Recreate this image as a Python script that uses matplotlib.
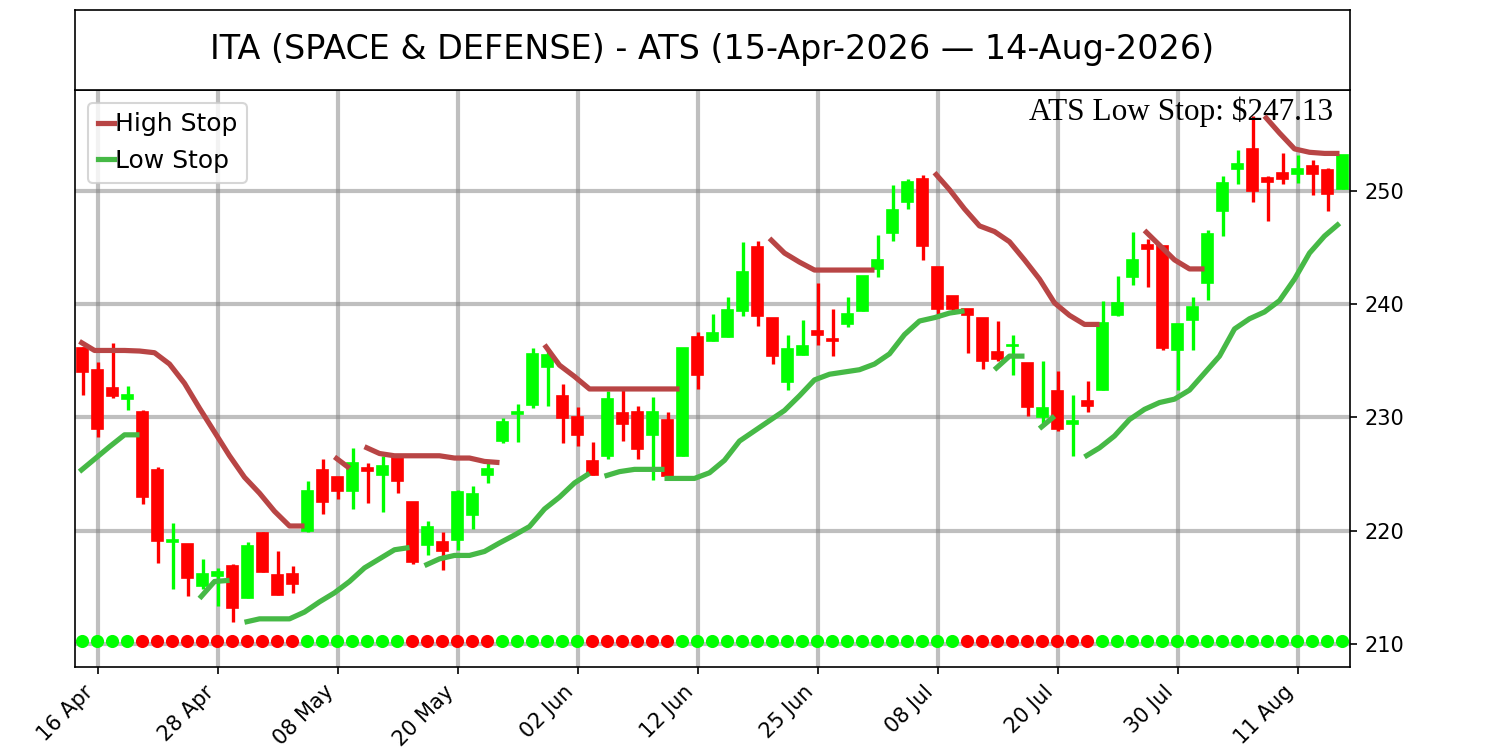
import numpy as np
import pandas as pd
import matplotlib
matplotlib.use('Agg')
import matplotlib.pyplot as plt
from matplotlib.lines import Line2D

# daily candles, 15-Apr-2026 .. 14-Aug-2026 (85 sessions)
opens = [236.1, 234.2, 232.6, 231.6, 230.5, 225.3, 219.0, 218.8, 215.1, 216.0,
         216.9, 214.0, 219.8, 216.1, 216.2, 220.0, 225.3, 224.7, 223.5, 225.5,
         224.9, 226.4, 222.5, 218.7, 219.0, 219.2, 221.4, 224.9, 227.9, 230.3,
         231.1, 234.4, 231.9, 230.0, 226.1, 226.6, 230.4, 230.5, 228.4, 229.8,
         226.6, 237.1, 236.7, 237.1, 239.4, 245.0, 238.8, 233.1, 235.5, 237.6,
         236.9, 238.25, 239.4, 243.1, 246.3, 249.0, 251.0, 243.3, 240.7, 239.55,
         238.8, 235.8, 236.3, 234.8, 230.0, 232.3, 229.4, 231.4, 232.4, 239.0,
         242.4, 245.2, 245.1, 235.9, 238.6, 241.9, 248.2, 251.9, 253.7, 251.1,
         251.6, 251.5, 252.2, 251.8, 250.2]
highs = [236.2, 234.9, 236.6, 232.8, 230.6, 225.6, 220.7, 218.8, 217.5, 216.7,
         217.0, 219.0, 219.9, 218.2, 216.9, 224.4, 226.3, 224.7, 227.3, 226.0,
         226.6, 226.8, 222.5, 220.8, 219.9, 223.6, 223.9, 226.2, 229.9, 231.2,
         236.1, 235.9, 232.9, 230.9, 227.8, 232.3, 232.7, 231.0, 231.8, 230.5,
         236.1, 237.5, 239.1, 240.6, 245.5, 245.6, 238.8, 237.3, 238.6, 241.9,
         239.6, 240.6, 242.5, 246.1, 250.5, 251.0, 251.4, 243.3, 240.7, 239.6,
         238.8, 238.5, 237.3, 234.8, 235.0, 234.1, 232.0, 233.2, 240.3, 242.5,
         246.4, 245.7, 245.1, 238.25, 240.6, 246.5, 251.3, 253.6, 256.6, 251.3,
         253.3, 253.2, 252.7, 252.0, 253.2]
lows = [232.0, 228.3, 231.7, 230.6, 222.3, 217.1, 214.8, 214.2, 214.8, 213.3,
        211.9, 214.0, 216.3, 214.3, 214.5, 219.9, 221.5, 222.8, 221.9, 222.4,
        221.6, 223.3, 217.0, 217.8, 216.5, 218.3, 220.1, 224.2, 227.7, 227.8,
        230.8, 231.0, 227.7, 227.5, 224.9, 226.3, 227.9, 226.3, 224.5, 224.8,
        226.6, 232.5, 236.7, 237.1, 238.9, 238.1, 234.7, 232.4, 235.5, 236.35,
        235.4, 238.0, 239.4, 242.4, 245.6, 248.4, 243.9, 238.8, 239.1, 235.7,
        234.3, 235.0, 233.7, 230.1, 229.5, 228.8, 226.6, 230.5, 232.4, 238.9,
        241.7, 241.5, 235.9, 232.4, 235.9, 240.4, 246.0, 250.6, 249.0, 247.3,
        250.6, 250.65, 249.6, 248.2, 250.2]
closes = [234.0, 229.0, 231.9, 231.95, 223.0, 219.1, 219.12, 215.8, 216.2, 216.3,
          213.2, 218.6, 216.3, 214.3, 215.3, 223.5, 222.5, 223.5, 226.0, 225.25,
          225.7, 224.4, 217.2, 220.3, 218.2, 223.4, 223.2, 225.4, 229.6, 230.5,
          235.6, 235.5, 229.9, 228.4, 224.9, 231.6, 229.4, 227.2, 230.5, 224.8,
          236.1, 233.7, 237.4, 239.5, 242.8, 238.9, 235.4, 236.0, 236.3, 237.3,
          236.7, 239.1, 242.5, 243.9, 248.3, 250.8, 245.1, 239.6, 239.6, 239.0,
          235.0, 235.15, 236.4, 230.9, 230.8, 229.0, 229.7, 231.0, 238.3, 240.1,
          243.9, 244.9, 236.1, 238.25, 239.7, 246.2, 250.7, 252.35, 250.0, 250.8,
          251.0, 251.95, 251.5, 249.7, 253.2]

# ATS trailing stops, stored as runs: (first bar index, values)
high_stop_starts = [0, 17, 19, 31, 46, 57, 71, 79]
high_stop_runs = [
    [236.7, 235.9, 235.9, 235.9, 235.85, 235.7, 234.7, 233.0, 230.8, 228.7,
     226.6, 224.7, 223.3, 221.7, 220.4, 220.4],
    [226.5, 225.5],
    [227.4, 226.8, 226.6, 226.6, 226.6, 226.6, 226.4, 226.4, 226.1, 226.0],
    [236.4, 234.6, 233.6, 232.5, 232.5, 232.5, 232.5, 232.5, 232.5, 232.5],
    [245.8, 244.5, 243.7, 243.0, 243.0, 243.0, 243.0, 243.0],
    [251.6, 250.1, 248.4, 246.9, 246.4, 245.5, 243.9, 242.2, 240.1, 239.0,
     238.2, 238.2],
    [246.5, 245.2, 243.9, 243.1, 243.1],
    [256.6, 255.1, 253.7, 253.4, 253.3, 253.3],
]
low_stop_starts = [0, 8, 11, 23, 35, 39, 61, 64, 67]
low_stop_runs = [
    [225.2, 226.3, 227.4, 228.45, 228.45],
    [214.0, 215.5, 215.6],
    [211.9, 212.2, 212.2, 212.2, 212.8, 213.7, 214.5, 215.5, 216.7, 217.5,
     218.3, 218.5],
    [216.9, 217.5, 217.8, 217.8, 218.15, 218.9, 219.6, 220.35, 221.9, 222.95,
     224.2, 225.05],
    [224.8, 225.2, 225.4, 225.4, 225.4],
    [224.6, 224.6, 224.6, 225.1, 226.2, 227.9, 228.8, 229.7, 230.6, 231.9,
     233.3, 233.8, 234.0, 234.2, 234.7, 235.6, 237.3, 238.5, 238.8, 239.2,
     239.4],
    [234.2, 235.4, 235.4],
    [229.0, 230.1],
    [226.5, 227.3, 228.35, 229.8, 230.7, 231.3, 231.6, 232.4, 233.9, 235.4,
     237.8, 238.7, 239.3, 240.3, 242.2, 244.5, 246.0, 247.13],
]

# trend state per bar (G = up, R = down)
trend = ("GGGG" + "R" * 11 + "G" * 7 + "R" * 6 + "G" * 6 + "R" * 6
         + "G" * 19 + "R" * 9 + "G" * 17)
dot_level = 210.2

holidays = ['2026-05-25', '2026-06-19', '2026-07-03']
dates = [d for d in pd.bdate_range('2026-04-15', '2026-08-14')
         if d.strftime('%Y-%m-%d') not in holidays]

UP = '#00ff00'
DOWN = '#ff0000'
HIGH_C = '#b84545'
LOW_C = '#46b946'

fig = plt.figure(figsize=(10, 5), dpi=150)
ax = fig.add_axes([0.05, 0.1107, 0.85, 0.7693])
tax = fig.add_axes([0.05, 0.88, 0.85, 0.1067])
tax.set_xticks([])
tax.set_yticks([])
tax.text(0.5, 0.5, 'ITA (SPACE & DEFENSE) - ATS (15-Apr-2026 \u2014 14-Aug-2026)',
         ha='center', va='center', fontsize=16, transform=tax.transAxes)

x = np.arange(len(opens))
o = np.array(opens)
h = np.array(highs)
l = np.array(lows)
c = np.array(closes)
cols = [UP if cc >= oo else DOWN for oo, cc in zip(o, c)]

ax.set_axisbelow(True)
ax.vlines(x, l, h, colors=cols, linewidth=1.6, zorder=2)
ax.bar(x, np.abs(c - o), bottom=np.minimum(o, c), width=0.7, color=cols,
       edgecolor=cols, linewidth=0.8, zorder=3)

shift = -0.2
for s, run in zip(high_stop_starts, high_stop_runs):
    xs = np.arange(s, s + len(run)) + shift
    ax.plot(xs, run, color=HIGH_C, linewidth=2.5, solid_capstyle='butt', zorder=4)
for s, run in zip(low_stop_starts, low_stop_runs):
    xs = np.arange(s, s + len(run)) + shift
    ax.plot(xs, run, color=LOW_C, linewidth=2.5, solid_capstyle='butt', zorder=4)

dot_cols = [UP if t == 'G' else DOWN for t in trend]
ax.scatter(x, [dot_level] * len(x), c=dot_cols, s=28, zorder=5)

ticks = list(range(1, len(x), 8))
ax.set_xticks(ticks)
ax.set_xticklabels([dates[i].strftime('%d %b') for i in ticks], rotation=45, ha='right')
ax.yaxis.tick_right()
ax.set_yticks([210, 220, 230, 240, 250])
ax.set_xlim(-0.5, 84.5)
ax.set_ylim(207.95, 258.9)
ax.grid(True, color='gray', alpha=0.5, linewidth=2)

handles = [Line2D([], [], color=HIGH_C, linewidth=2.5),
           Line2D([], [], color=LOW_C, linewidth=2.5)]
ax.legend(handles, ['High Stop', 'Low Stop'], loc='upper left', fontsize=12,
          handlelength=0.65, handletextpad=0.05, borderpad=0.4)

ax.text(0.987, 0.988, 'ATS Low Stop: $%.2f' % low_stop_runs[-1][-1],
        transform=ax.transAxes, ha='right', va='top', fontsize=15,
        family='Liberation Serif')

fig.savefig('out.png', dpi=150)
